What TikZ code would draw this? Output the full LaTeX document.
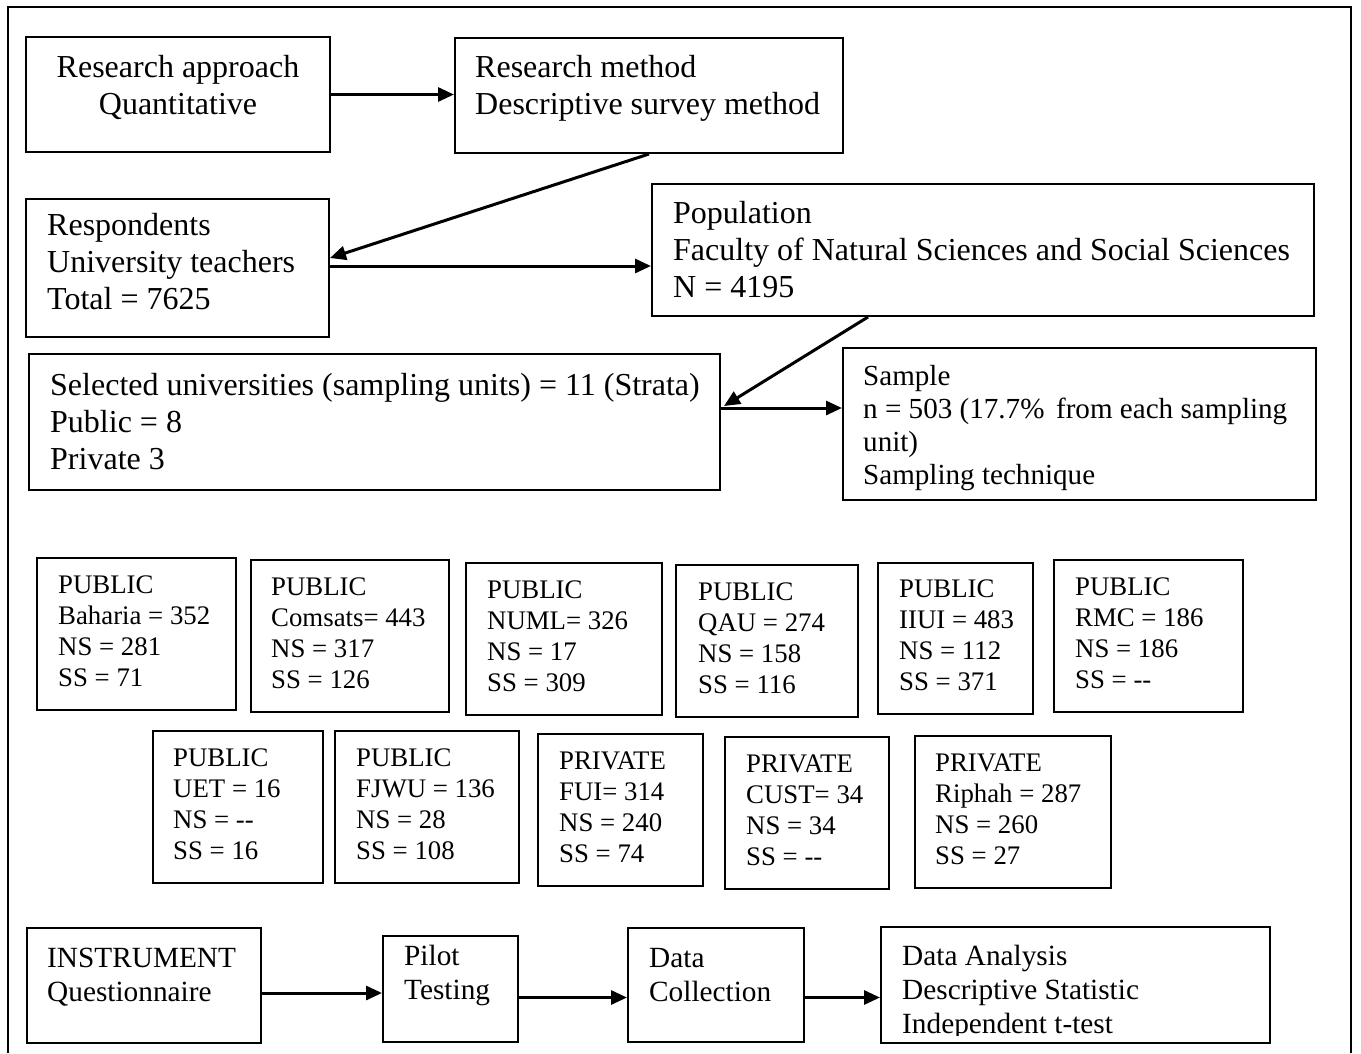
\documentclass[tikz,border=0pt]{standalone}
\usepackage{fontspec}
\setmainfont{Liberation Serif}
\usetikzlibrary{arrows.meta,fit,calc}
\tikzset{
  box/.style={draw, line width=2pt, inner sep=0pt},
  big/.style={inner sep=0pt, anchor=north west, align=left, font=\fontsize{32}{37}\selectfont},
  uni/.style={inner sep=0pt, anchor=north west, align=left, font=\fontsize{26.8}{31}\selectfont},
  smp/.style={inner sep=0pt, anchor=north west, align=left, font=\fontsize{29.1}{33}\selectfont},
  bot/.style={inner sep=0pt, anchor=north west, align=left, font=\fontsize{29.3}{34}\selectfont},
  arr/.style={line width=3pt, -{Triangle[length=16pt,width=14pt]}},
}
\begin{document}
\begin{tikzpicture}[x=1pt,y=-1pt]
\useasboundingbox (0,0) rectangle (1361,1053);
% outer frame (open at the bottom)
\draw[line width=2pt] (8,1053) -- (8,7) -- (1351,7) -- (1351,1053);

% top section
\node[box, fit={(26,37) (330,152)}] (ra) {};
\node[big, anchor=north, align=center] (rat) at (178,51.1) {\strut Research approach\\Quantitative};
\node[box, fit={(455,38) (843,153)}] (rm) {};
\node[big] (rmt) at (475,51.1) {\strut Research method\\Descriptive survey method};
\node[box, fit={(26,199) (329,337)}] (resp) {};
\node[big] (respt) at (47,209.1) {\strut Respondents\\University teachers\\Total = 7625};
\node[box, fit={(652,184) (1314,316)}] (pop) {};
\node[big] (popt) at (673,197.1) {\strut Population\\Faculty of Natural Sciences and Social Sciences\\N = 4195};
\node[box, fit={(29,354) (720,490)}] (sel) {};
\node[big] (selt) at (50,369.1) {\strut Selected universities (sampling units) = 11 (Strata)\\Public = 8\\Private 3};
\node[box, fit={(843,348) (1316,500)}] (samp) {};
\node[smp] (sampt) at (863,361.9) {\strut Sample\\n = 503 (17.7\%\hspace{0.15em} from each sampling\\unit)\\Sampling technique};

\draw[arr] (ra.east) -- (ra.east -| rm.west);
\draw[arr] (rm.south) -- ([yshift=10pt]resp.east);
\draw[arr] ([yshift=2pt]resp.east) -- ([yshift=2pt]resp.east -| pop.west);
\draw[arr] ([xshift=-115pt]pop.south) -- ([xshift=3pt,yshift=16pt]sel.east);
\draw[arr] ([yshift=14pt]sel.east) -- ([yshift=14pt]sel.east -| samp.west);

% universities, row 1
\node[box, fit={(37,558) (236,710)}] (bah) {};
\node[uni] (baht) at (58,571.3) {\strut PUBLIC\\Baharia = 352\\NS = 281\\SS = 71};
\node[box, fit={(251,560) (449,712)}] (com) {};
\node[uni] (comt) at (271,573.3) {\strut PUBLIC\\Comsats= 443\\NS = 317\\SS = 126};
\node[box, fit={(466,563) (662,715)}] (numl) {};
\node[uni] (numlt) at (487,576.3) {\strut PUBLIC\\NUML= 326\\NS = 17\\SS = 309};
\node[box, fit={(676,565) (858,717)}] (qau) {};
\node[uni] (qaut) at (698,578.3) {\strut PUBLIC\\QAU = 274\\NS = 158\\SS = 116};
\node[box, fit={(878,563) (1033,714)}] (iiui) {};
\node[uni] (iiuit) at (899,575.3) {\strut PUBLIC\\IIUI = 483\\NS = 112\\SS = 371};
\node[box, fit={(1054,560) (1243,712)}] (rmc) {};
\node[uni] (rmct) at (1075,573.3) {\strut PUBLIC\\RMC = 186\\NS = 186\\SS = {-}{-}};

% universities, row 2
\node[box, fit={(153,731) (323,883)}] (uet) {};
\node[uni] (uett) at (173,744.3) {\strut PUBLIC\\UET = 16\\NS = {-}{-}\\SS = 16};
\node[box, fit={(335,731) (519,883)}] (fjwu) {};
\node[uni] (fjwut) at (356,744.3) {\strut PUBLIC\\FJWU = 136\\NS = 28\\SS = 108};
\node[box, fit={(538,734) (703,886)}] (fui) {};
\node[uni] (fuit) at (559,747.3) {\strut PRIVATE\\FUI= 314\\NS = 240\\SS = 74};
\node[box, fit={(725,737) (889,889)}] (cust) {};
\node[uni] (custt) at (746,750.3) {\strut PRIVATE\\CUST= 34\\NS = 34\\SS = {-}{-}};
\node[box, fit={(915,736) (1111,888)}] (rip) {};
\node[uni] (ript) at (935,749.3) {\strut PRIVATE\\Riphah = 287\\NS = 260\\SS = 27};

% bottom row
\node[box, fit={(27,928) (261,1043)}] (inst) {};
\node[bot] (instt) at (47,943.2) {\strut INSTRUMENT\\Questionnaire};
\node[box, fit={(383,936) (518,1042)}] (pil) {};
\node[bot] (pilt) at (404,941.2) {\strut Pilot\\Testing};
\node[box, fit={(628,928) (804,1042)}] (dc) {};
\node[bot] (dct) at (649,943.2) {\strut Data\\Collection};
\node[box, fit={(881,927) (1270,1043)}] (da) {};
\begin{scope}
\clip (881,927) rectangle (1270,1035);
\node[bot] (dat) at (902,941.2) {\strut Data Analysis\\Descriptive Statistic\\Independent t-test};
\end{scope}

\draw[arr] ([yshift=-7.5pt]inst.east) -- ([yshift=-7.5pt]inst.east -| pil.west);
\draw[arr] ([yshift=-8.5pt]pil.east) -- ([yshift=-8.5pt]pil.east -| dc.west);
\draw[arr] ([yshift=-12.5pt]dc.east) -- ([yshift=-12.5pt]dc.east -| da.west);
\end{tikzpicture}
\end{document}
